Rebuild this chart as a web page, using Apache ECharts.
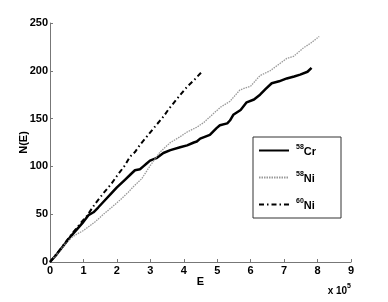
<!DOCTYPE html>
<html>
<head>
<meta charset="utf-8">
<script src="https://cdn.jsdelivr.net/npm/echarts@6/dist/echarts.min.js"></script>
<style>html,body{margin:0;padding:0;background:#fff;}#c{width:388px;height:302px;}</style>
</head>
<body>
<div id="c"></div>
<script>
// x values in units of 10^5
var seriesNames = ['58Cr', '58Ni', '60Ni'];
var cr58 = [[0,0],[0.2,8],[0.4,17],[0.6,26],[0.85,36],[1.0,42],[1.15,49],[1.3,52],[1.44,57],[1.6,63],[1.84,72],[2.0,78],[2.24,86],[2.39,91],[2.54,96],[2.69,97],[2.79,100],[2.89,103],[2.99,106],[3.2,109],[3.39,114],[3.6,117],[3.89,120],[4.1,122],[4.3,125],[4.39,126],[4.49,129],[4.78,133],[4.98,140],[5.08,143],[5.3,145],[5.38,148],[5.48,154],[5.7,159],[5.88,167],[6.1,170],[6.28,175],[6.45,181],[6.63,187],[6.85,189],[7.08,192],[7.3,194],[7.48,196],[7.7,199],[7.82,203]];
var ni58 = [[0,0],[0.3,12],[0.5,21],[0.7,27],[1.0,33],[1.35,42],[1.6,50],[1.84,57],[2.1,65],[2.34,73],[2.5,79],[2.74,87],[3.0,101],[3.29,115],[3.6,125],[3.89,131],[4.1,136],[4.39,141],[4.6,146],[4.88,155],[5.1,162],[5.38,168],[5.68,180],[6.0,184],[6.28,195],[6.58,200],[7.08,213],[7.28,215],[7.58,224],[7.8,229],[8.05,236]];
var ni60 = [[0,0],[0.3,13],[0.6,27],[0.9,40],[1.1,48],[1.35,61],[1.6,72],[1.84,82],[2.0,90],[2.24,101],[2.39,110],[2.54,115],[2.7,123],[2.89,131],[3.1,140],[3.39,152],[3.55,160],[3.69,166],[3.9,175],[4.09,183],[4.3,190],[4.57,200]];
var xTicks = {min: 0, max: 9, interval: 1};
var yTicks = {min: 0, max: 250, interval: 50};

var FONT = '"Liberation Sans", Arial, Helvetica, sans-serif';
var chart = echarts.init(document.getElementById('c'), null, {renderer: 'canvas'});
var axisCommon = {
  nameMoveOverlap: false,
  axisLine: {show: true, lineStyle: {color: '#777', width: 1}},
  axisTick: {show: true, inside: true, length: 3, lineStyle: {color: '#777'}},
  splitLine: {show: false},
  nameTextStyle: {fontFamily: FONT, fontWeight: 'bold', fontSize: 11, color: '#000'}
};
chart.setOption({
  animation: false,
  backgroundColor: '#fff',
  grid: {left: 50, right: 37, top: 23, bottom: 40},
  xAxis: Object.assign({
    type: 'value', min: xTicks.min, max: xTicks.max, interval: xTicks.interval,
    name: 'E', nameLocation: 'middle', nameGap: 14,
    axisLabel: {fontFamily: FONT, fontWeight: 'bold', fontSize: 11, color: '#000', margin: 3}
  }, axisCommon),
  yAxis: Object.assign({
    type: 'value', min: yTicks.min, max: yTicks.max, interval: yTicks.interval,
    name: 'N(E)', nameLocation: 'middle', nameGap: 21,
    axisLabel: {fontFamily: FONT, fontWeight: 'bold', fontSize: 11, color: '#000', margin: 2}
  }, axisCommon),
  legend: {
    orient: 'vertical', left: 253, top: 137,
    padding: [7, 25, 7, 5], itemGap: 14, itemWidth: 30, itemHeight: 14,
    borderColor: '#333', borderWidth: 1, backgroundColor: '#fff',
    itemStyle: {color: 'rgba(0,0,0,0)', borderColor: 'rgba(0,0,0,0)', borderWidth: 0, opacity: 0},
    data: seriesNames,
    formatter: function (n) { return '{s|' + n.slice(0, 2) + '}{b|' + n.slice(2) + '}'; },
    textStyle: {
      fontFamily: FONT, color: '#000', padding: [0, 0, 0, 2],
      rich: {
        s: {fontFamily: FONT, fontWeight: 'bold', fontSize: 7, verticalAlign: 'top', lineHeight: 13},
        b: {fontFamily: FONT, fontWeight: 'bold', fontSize: 11, verticalAlign: 'bottom', lineHeight: 13}
      }
    }
  },
  graphic: [{
    type: 'text', right: 37, top: 283,
    style: {
      text: '{a|x 10}{s|5}', fill: '#000',
      rich: {
        a: {fontFamily: FONT, fontWeight: 'bold', fontSize: 10, verticalAlign: 'bottom', lineHeight: 13},
        s: {fontFamily: FONT, fontWeight: 'bold', fontSize: 7, verticalAlign: 'top', lineHeight: 13}
      }
    }
  }],
  series: [
    {name: seriesNames[0], type: 'line', data: cr58, showSymbol: false, symbol: 'none',
     lineStyle: {color: '#000', width: 2.5, type: 'solid'}, itemStyle: {color: '#000'}},
    {name: seriesNames[1], type: 'line', data: ni58, showSymbol: false, symbol: 'none',
     lineStyle: {color: '#999', width: 1.3, type: [1.5, 1]}, itemStyle: {color: '#999'}},
    {name: seriesNames[2], type: 'line', data: ni60, showSymbol: false, symbol: 'none',
     lineStyle: {color: '#000', width: 2, type: [5, 3, 1.5, 3]}, itemStyle: {color: '#000'}}
  ]
});
</script>
</body>
</html>
